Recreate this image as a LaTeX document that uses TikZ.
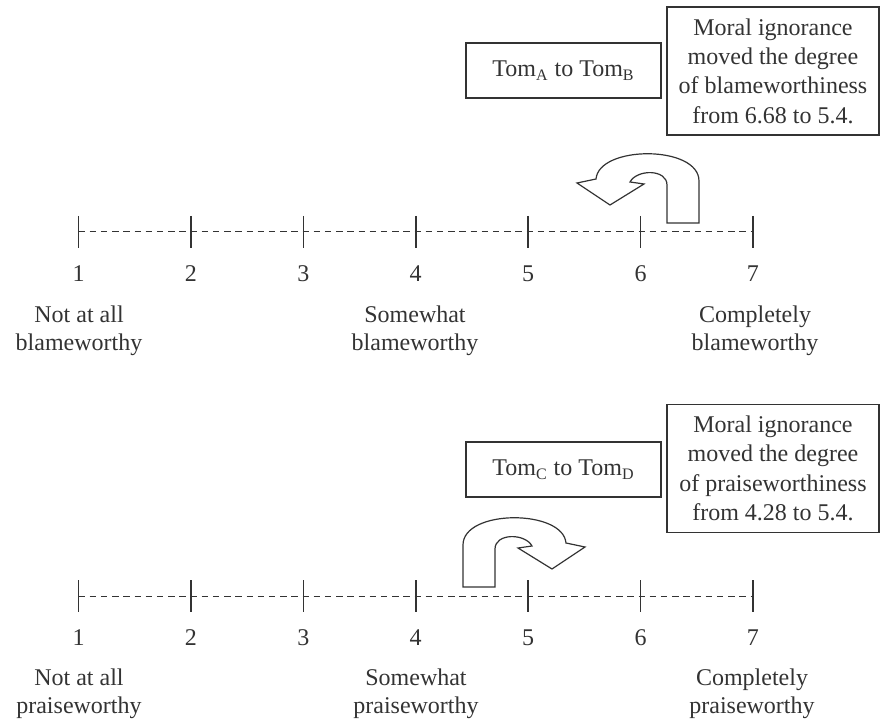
\documentclass[tikz,border=0pt]{standalone}
\usepackage{fontspec}
\setmainfont{Liberation Serif}
\definecolor{ink}{rgb}{0.2,0.2,0.2}
\tikzset{
  tickline/.style={draw=ink, line width=0.8pt},
  dashline/.style={draw=ink, line width=0.5pt, dash pattern=on 3.2pt off 2.4pt},
  txt/.style={font=\fontsize{12}{14}\selectfont, text=ink, inner sep=0pt},
  lab/.style={txt, align=center},
  tbox/.style={txt, draw=ink, line width=0.75pt, align=center, minimum width=97.5pt, minimum height=27.5pt},
  mbox/.style={txt, font=\fontsize{12}{14.7}\selectfont, draw=ink, line width=0.75pt, align=center, minimum width=106pt, minimum height=64pt},
  uarrow/.style={draw=ink, line width=0.6pt, fill=white, line join=miter},
  uturn/.pic={
    \draw[uarrow] (0,0) -- (0,-42) .. controls (0,-78) and (100,-78) .. (103,-44)
      -- (122,-40) -- (89,-18) -- (55,-39) -- (69,-41)
      .. controls (62,-54) and (32,-54) .. (32,-38) -- (32,0) -- cycle;
  }
}
\begin{document}
\begin{tikzpicture}[x=0.5pt,y=-0.5pt]
\useasboundingbox (0,0) rectangle (880,722);

% ---------- top scale ----------
\foreach \i in {1,...,7}{
  \coordinate (a\i) at ({78.5+112.4*(\i-1)},232);
  \draw[tickline] (a\i) ++(0,-16) -- ++(0,32);
  \node[txt] (an\i) at ({78.5+112.4*(\i-1)},274) {\i};
}
\draw[dashline] (a1) -- (a7);
\node[lab] (al1) at (79,330.5) {Not at all\\blameworthy};
\node[lab] (al4) at (415,330.5) {Somewhat\\blameworthy};
\node[lab] (al7) at (755,330.5) {Completely\\blameworthy};

\node[tbox] (tomab) at (563.5,70.5) {Tom\textsubscript{A} to Tom\textsubscript{B}};
\node[mbox] (mtop) at (773,71) {Moral ignorance\\moved the degree\\of blameworthiness\\from 6.68 to 5.4.};
\pic[xscale=-1] (arrtop) at (699,223) {uturn};

% ---------- bottom scale ----------
\foreach \i in {1,...,7}{
  \coordinate (b\i) at ({78.5+112.4*(\i-1)},596);
  \draw[tickline] (b\i) ++(0,-16) -- ++(0,32);
  \node[txt] (bn\i) at ({78.5+112.4*(\i-1)},638) {\i};
}
\draw[dashline] (b1) -- (b7);
\node[lab] (bl1) at (79,693.5) {Not at all\\praiseworthy};
\node[lab] (bl4) at (416,693.5) {Somewhat\\praiseworthy};
\node[lab] (bl7) at (752,693.5) {Completely\\praiseworthy};

\node[tbox] (tomcd) at (563.5,469.5) {Tom\textsubscript{C} to Tom\textsubscript{D}};
\node[mbox] (mbot) at (773,468.5) {Moral ignorance\\moved the degree\\of praiseworthiness\\from 4.28 to 5.4.};
\pic (arrbot) at (463,587) {uturn};
\end{tikzpicture}
\end{document}
